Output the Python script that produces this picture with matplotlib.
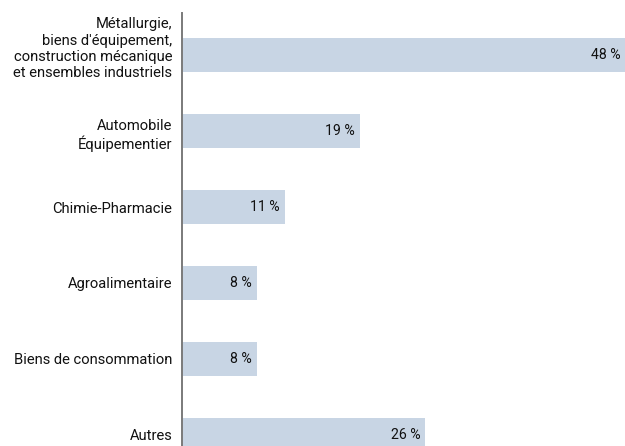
import matplotlib
matplotlib.use("Agg")
import matplotlib.pyplot as plt
import matplotlib.transforms as mtransforms

plt.rcParams['font.family'] = ['Roboto', 'DejaVu Sans']

categories = [
    "Métallurgie,\nbiens d'équipement,\nconstruction mécanique\net ensembles industriels",
    "Automobile\nÉquipementier",
    "Chimie-Pharmacie",
    "Agroalimentaire",
    "Biens de consommation",
    "Autres",
]
values = [48, 19, 11, 8, 8, 26]
value_labels = ["48 %", "19 %", "11 %", "8 %", "8 %", "26 %"]

bar_color = "#c8d5e4"
axis_color = "#7a7a7a"
text_color = "#111111"

fig = plt.figure(figsize=(6.25, 4.46), dpi=100)
ax = fig.add_axes([182 / 625, 0, 1 - 182 / 625, 1 - 13 / 446])

positions = list(range(len(categories)))
ax.barh(positions, values, height=0.45, color=bar_color, edgecolor="none")

ax.set_xlim(0, 47.4)
ax.set_ylim(5.145, -0.553)

for spine in ("top", "right", "bottom"):
    ax.spines[spine].set_visible(False)
ax.spines["left"].set_color(axis_color)
ax.spines["left"].set_linewidth(1.4)

ax.set_xticks([])
ax.set_yticks(positions)
ax.set_yticklabels(categories, fontsize=10.6, color=text_color, linespacing=1.19)
ax.tick_params(axis="y", length=0, pad=7)

# lift the four-line label above its bar, nudge the two-line one down
labels = ax.get_yticklabels()
labels[0].set_transform(labels[0].get_transform() +
                        mtransforms.ScaledTranslation(0, 9 / 100, fig.dpi_scale_trans))
labels[1].set_transform(labels[1].get_transform() +
                        mtransforms.ScaledTranslation(0, -1.5 / 100, fig.dpi_scale_trans))

xmax = ax.get_xlim()[1]
for pos, val, lab in zip(positions, values, value_labels):
    ax.annotate(lab, xy=(min(val, xmax), pos), xytext=(-3.5, 0),
                textcoords="offset points", ha="right", va="center",
                fontsize=10.2, color=text_color)

fig.savefig("out.png", dpi=100)
